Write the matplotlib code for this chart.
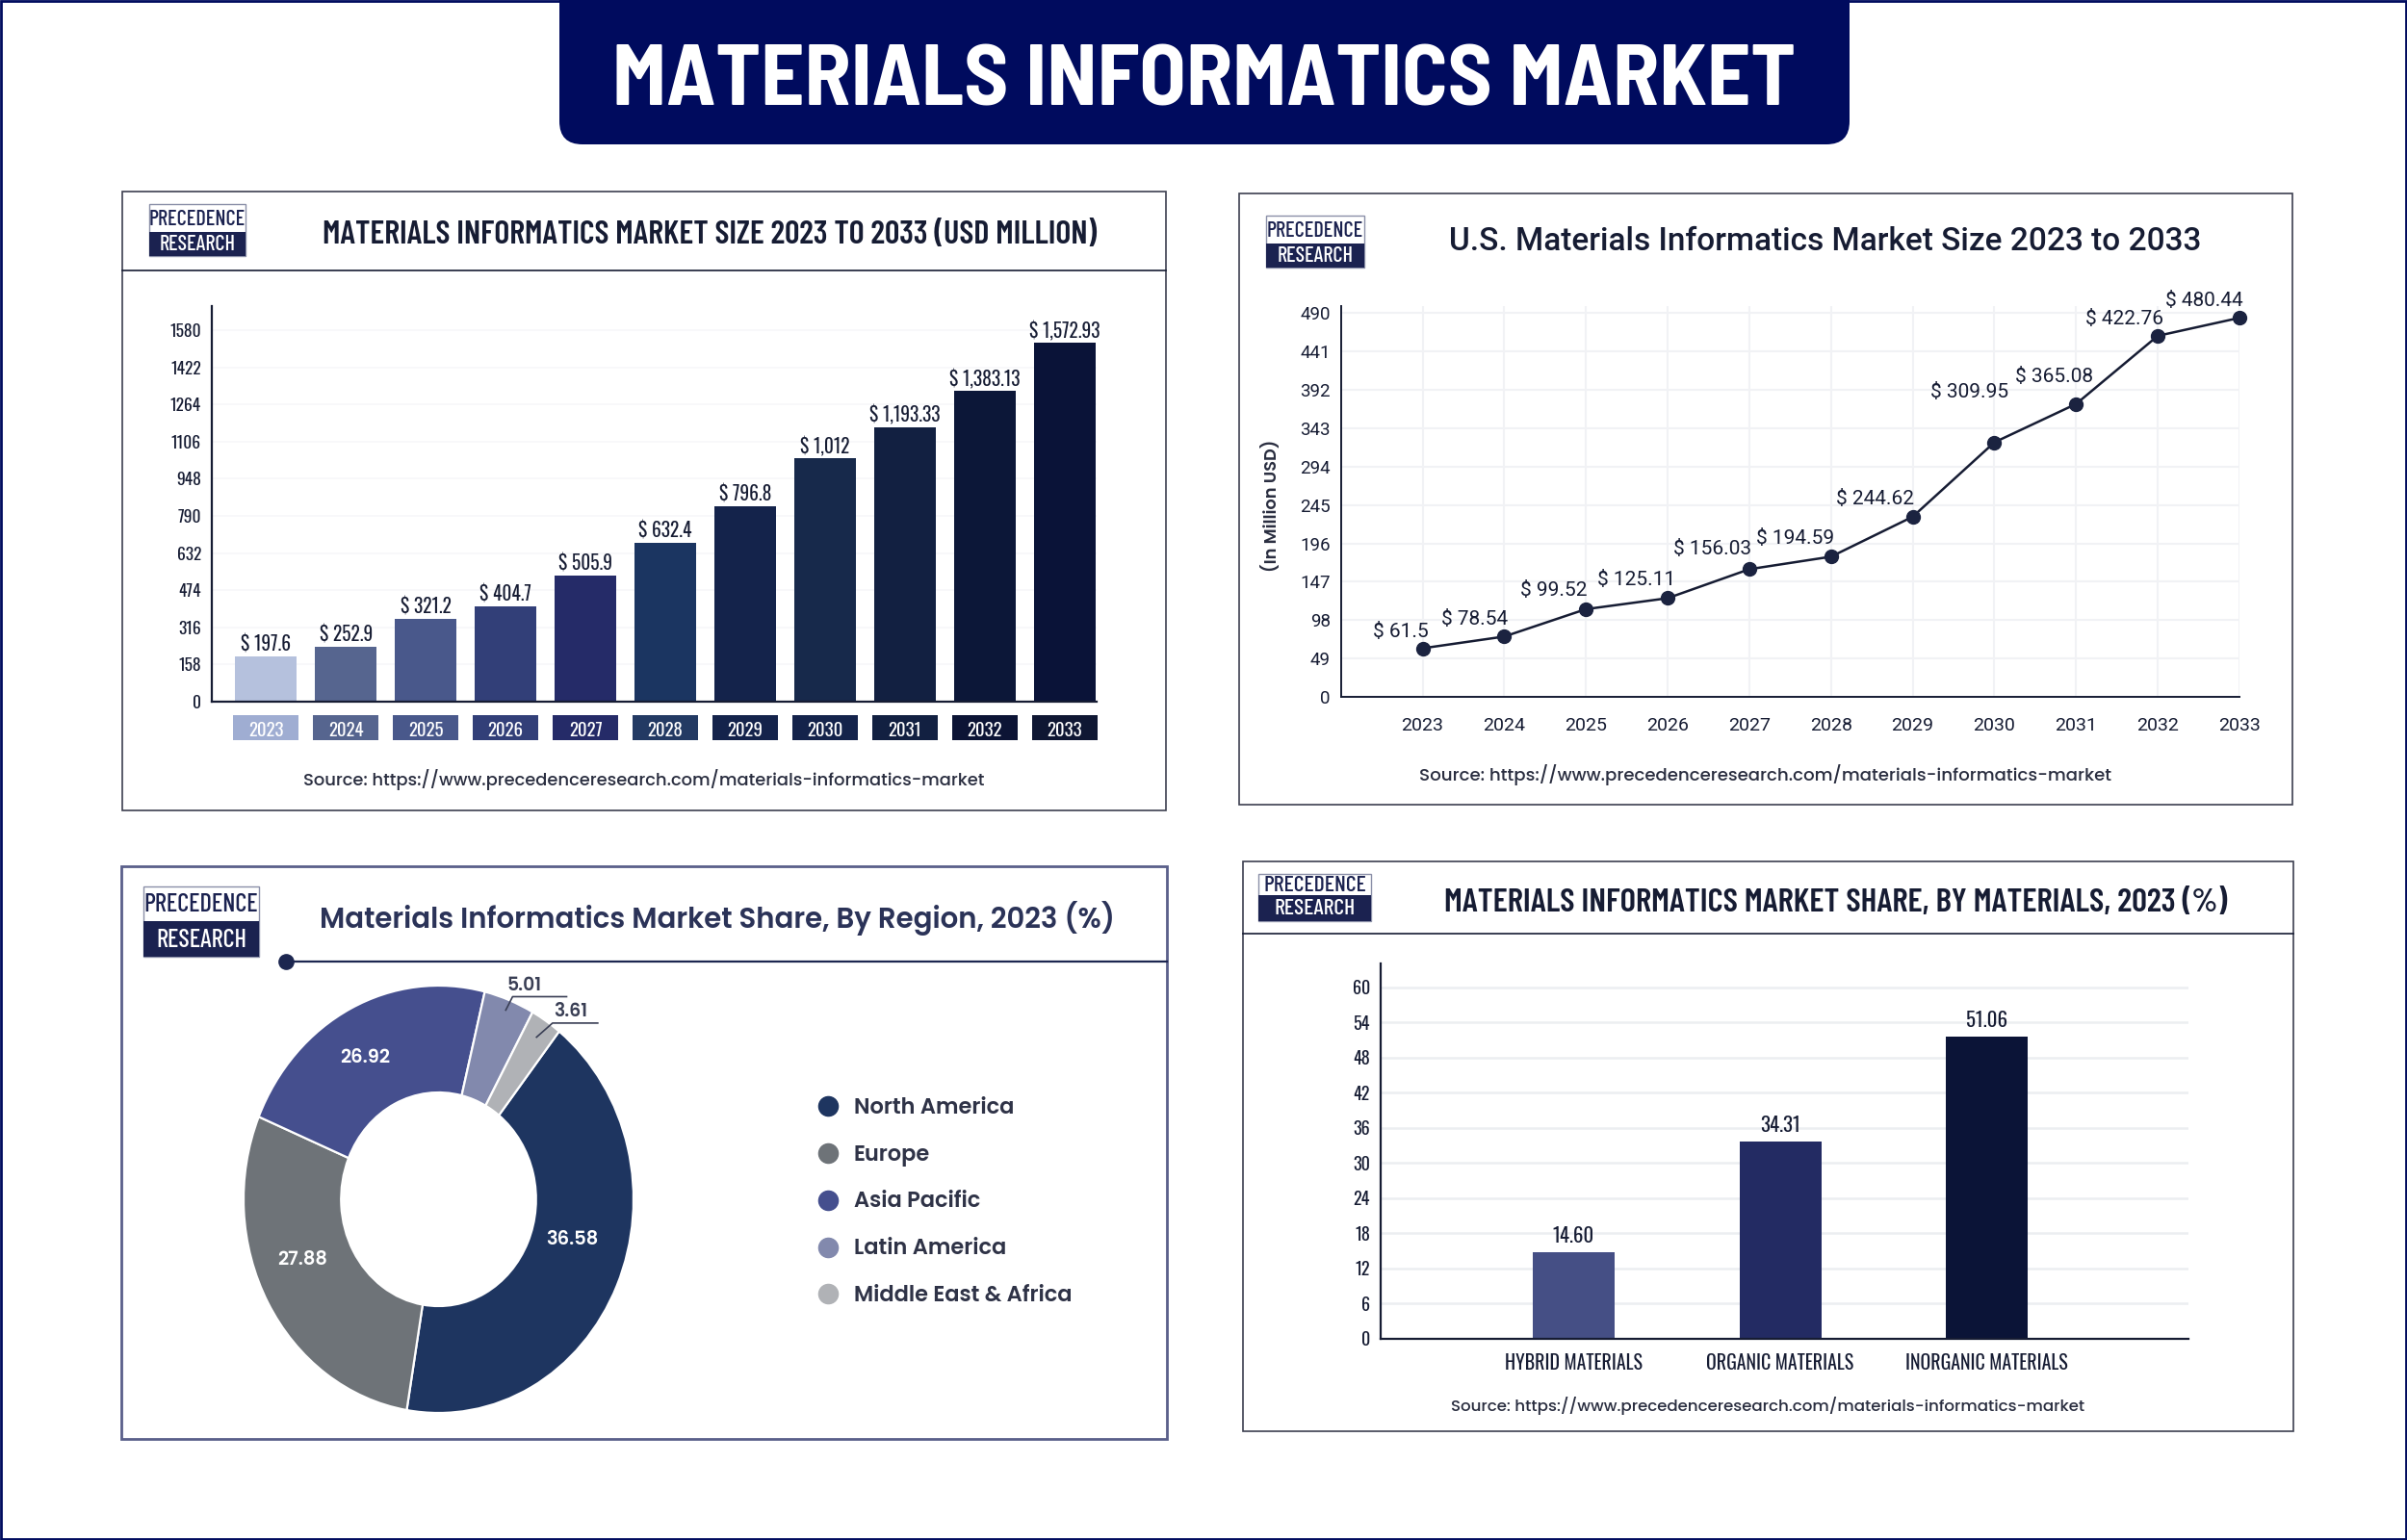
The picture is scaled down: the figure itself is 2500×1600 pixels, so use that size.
import math
import matplotlib
matplotlib.use('Agg')
import matplotlib.pyplot as plt
from matplotlib.patches import Rectangle, FancyBboxPatch
from matplotlib.lines import Line2D

HEAD = ['Barlow Condensed', 'Bebas Neue', 'Liberation Sans', 'DejaVu Sans']
NARROW = ['Oswald', 'Bebas Neue', 'Liberation Sans', 'DejaVu Sans']
BANNER = ['Barlow Semi Condensed', 'Oswald', 'Liberation Sans', 'DejaVu Sans']
WIDE = ['Poppins', 'Open Sans', 'DejaVu Sans']
PLAIN = ['Roboto', 'Liberation Sans', 'DejaVu Sans']
NAVY = '#000b5e'
DARK = '#161c33'
SOURCE = 'Source: https://www.precedenceresearch.com/materials-informatics-market'

# market size bars, heights read against the y axis
years = ['2023', '2024', '2025', '2026', '2027', '2028', '2029', '2030', '2031', '2032', '2033']
size_heights = [191, 233, 353, 407, 538, 675, 832, 1034, 1168, 1323, 1527]
size_labels = ['$ 197.6', '$ 252.9', '$ 321.2', '$ 404.7', '$ 505.9', '$ 632.4', '$ 796.8',
               '$ 1,012', '$ 1,193.33', '$ 1,383.13', '$ 1,572.93']
size_ticks = [0, 158, 316, 474, 632, 790, 948, 1106, 1264, 1422, 1580]
size_colors = ['#b5c1dd', '#56658f', '#49588b', '#323f78', '#252b68', '#1b3561',
               '#14234b', '#17294b', '#122041', '#0c1738', '#0a1338']
year_box_colors = ['#9fadd2', '#56658f', '#49588b', '#323f78', '#252b68', '#233a63',
                   '#14234b', '#14234b', '#122041', '#0c1435', '#0f1733']

# U.S. line, values read against the y axis
us_values = [62, 77, 112, 126, 163, 179, 230, 325, 374, 461, 484]
us_labels = ['$ 61.5', '$ 78.54', '$ 99.52', '$ 125.11', '$ 156.03', '$ 194.59', '$ 244.62',
             '$ 309.95', '$ 365.08', '$ 422.76', '$ 480.44']
us_ticks = [0, 49, 98, 147, 196, 245, 294, 343, 392, 441, 490]

# region donut, sweep, labels as printed
regions = ['North America', 'Europe', 'Asia Pacific', 'Latin America', 'Middle East & Africa']
region_sweep = [42.0, 28.7, 22.5, 4.2, 2.6]
region_labels = ['36.58', '27.88', '26.92', '5.01', '3.61']
region_colors = ['#1e3560', '#6e7378', '#454f8e', '#8289ad', '#b0b2b6']

# materials bars
materials = ['HYBRID MATERIALS', 'ORGANIC MATERIALS', 'INORGANIC MATERIALS']
material_values = [14.8, 33.7, 51.6]
material_labels = ['14.60', '34.31', '51.06']
material_ticks = [0, 6, 12, 18, 24, 30, 36, 42, 48, 54, 60]
material_colors = ['#454f85', '#232b63', '#0b1437']

W, H = 2500, 1600
fig = plt.figure(figsize=(25, 16), dpi=100, facecolor='white')
bg = fig.add_axes([0, 0, 1, 1])
bg.set_xlim(0, W)
bg.set_ylim(H, 0)
bg.axis('off')


def px_axes(left, top, right, bottom):
    ax = fig.add_axes([left / W, 1 - bottom / H, (right - left) / W, (bottom - top) / H])
    ax.patch.set_alpha(0)
    return ax


def panel(left, top, right, bottom, edge='#3d4050', lw=1.2):
    bg.add_patch(Rectangle((left, top), right - left, bottom - top, fc='white', ec=edge, lw=lw))


def logo(left, top, right, bottom, split, size):
    bg.add_patch(Rectangle((left, top), right - left, bottom - top, fc='white', ec='#8a8fa8', lw=1))
    bg.add_patch(Rectangle((left, split), right - left, bottom - split, fc='#1b2250', ec='none'))
    mid = (left + right) / 2
    bg.text(mid, (top + split) / 2 + 1, 'PRECEDENCE', family=HEAD, fontsize=size, fontweight='medium',
            color='#1b2250', ha='center', va='center')
    bg.text(mid, (split + bottom) / 2 + 1, 'RESEARCH', family=HEAD, fontsize=size, fontweight='medium',
            color='white', ha='center', va='center')


def source(x, y, size):
    bg.text(x, y, SOURCE, family=WIDE, fontsize=size, fontweight='medium', color='#2a2e40',
            ha='center', va='center')


def clean_axes(ax, lw=1.4):
    ax.spines['top'].set_visible(False)
    ax.spines['right'].set_visible(False)
    ax.spines['left'].set_linewidth(lw)
    ax.spines['bottom'].set_linewidth(lw)
    ax.spines['left'].set_color(DARK)
    ax.spines['bottom'].set_color(DARK)
    ax.set_axisbelow(True)


# page frame and banner
bg.add_patch(Rectangle((1, 1), W - 2, H - 2, fc='white', ec=NAVY, lw=2))
bg.add_patch(FancyBboxPatch((581, -60), 1340, 210, boxstyle='round,pad=0,rounding_size=24',
                            fc=NAVY, ec='none'))
bg.text(1251, 86, 'MATERIALS INFORMATICS MARKET', family=BANNER, fontsize=64, fontweight='bold',
        color='white', ha='center', va='center')

# top left: market size
panel(127, 199, 1211, 842)
bg.plot([127, 1211], [281, 281], color=DARK, lw=1.2)
logo(155, 212, 255, 266, 241, 16)
bg.text(737, 245, 'MATERIALS INFORMATICS MARKET SIZE 2023 TO 2033 (USD MILLION)', family=HEAD,
        fontsize=24.6, fontweight='semibold', color=DARK, ha='center', va='center')
source(669, 810, 12.9)

ax1 = px_axes(220, 318, 1139, 729)
x1 = range(len(years))
ax1.bar(x1, size_heights, width=0.77, color=size_colors)
ax1.set_xlim(-0.68, 10.40)
ax1.set_ylim(0, 1682)
for i in x1:
    ax1.add_patch(Rectangle((i - 0.41, -164), 0.82, 107, fc=year_box_colors[i], ec='none',
                            clip_on=False, zorder=0.2))
ax1.set_yticks(size_ticks)
ax1.set_yticklabels([str(t) for t in size_ticks], family=NARROW, fontsize=12.5, color=DARK)
ax1.set_xticks(list(x1))
ax1.set_xticklabels(years, family=NARROW, fontsize=13.5, color='white')
ax1.tick_params(axis='y', length=0, pad=8)
ax1.tick_params(axis='x', length=0, pad=15)
ax1.grid(axis='y', color='#f7f7f9', lw=1.2)
clean_axes(ax1, 1.6)
for i in x1:
    ax1.annotate(size_labels[i], (i, size_heights[i]), xytext=(0, 9), textcoords='offset points',
                 family=NARROW, fontsize=14, color=DARK, ha='center', va='center')

# top right: U.S. line
panel(1287, 201, 2381, 836)
logo(1315, 224, 1417, 278, 253, 16)
bg.text(1896, 251, 'U.S. Materials Informatics Market Size 2023 to 2033', family=PLAIN,
        fontsize=24, fontweight='medium', color=DARK, ha='center', va='center')
source(1833, 805, 13.1)
bg.text(1321, 525, '(In Million USD)', family=WIDE, fontsize=12.8, fontweight='semibold', color='#2a2e40',
        rotation=90, ha='center', va='center')

ax2 = px_axes(1393, 318, 2326, 724)
x2 = list(range(len(years)))
ax2.plot(x2, us_values, color=DARK, lw=1.8, marker='o', ms=10, mfc='#1b2340', mec='#1b2340', clip_on=False)
ax2.set_xlim(-0.996, 10)
ax2.set_ylim(0, 499)
ax2.set_yticks(us_ticks)
ax2.set_yticklabels([str(t) for t in us_ticks], family=PLAIN, fontsize=13.5, color=DARK)
ax2.set_xticks(x2)
ax2.set_xticklabels(years, family=PLAIN, fontsize=14, color=DARK)
ax2.tick_params(axis='y', length=0, pad=8)
ax2.tick_params(axis='x', length=0, pad=15)
ax2.grid(axis='both', color='#f1f2f5', lw=1.5)
clean_axes(ax2, 1.4)
label_offsets = [(-23, 17), (-31, 18), (-33, 19), (-32, 19), (-38, 21), (-37, 19),
                 (-39, 18), (-26, 52), (-23, 28), (-35, 17), (-37, 18)]
for i in x2:
    off = (label_offsets[i][0] * 0.72, label_offsets[i][1] * 0.72)
    ax2.annotate(us_labels[i], (i, us_values[i]), xytext=off, textcoords='offset points',
                 family=PLAIN, fontsize=15, color=DARK, ha='center', va='center')

# bottom left: donut
panel(126, 900, 1212, 1495, edge='#5a5f8a', lw=2)
logo(149, 921, 269, 994, 957, 19)
bg.text(745, 954, 'Materials Informatics Market Share, By Region, 2023 (%)', family=WIDE,
        fontsize=21, fontweight='semibold', color='#2b3358', ha='center', va='center')
bg.plot([297, 1212], [999, 999], color='#1c2650', lw=1.6)
bg.plot([297], [999], 'o', color='#1c2650', ms=11)

ax3 = px_axes(253, 1024, 658, 1468)
wedges, _ = ax3.pie(region_sweep, colors=region_colors, startangle=51.8, counterclock=False,
                    radius=1, wedgeprops=dict(width=0.5, edgecolor='white', linewidth=1.6))
ax3.set_aspect('auto')
ax3.set_xlim(-1, 1)
ax3.set_ylim(-1, 1)
inside_pos = [(0.683, -0.19), (-0.70, -0.288), (-0.376, 0.662)]
for i in range(3):
    ax3.text(inside_pos[i][0], inside_pos[i][1], region_labels[i], family=WIDE, fontsize=14,
             fontweight='semibold', color='white', ha='center', va='center')
leaders = [(3, 0.95, 0.035, 0.063, 0.277, -0.08), (4, 0.91, 0.082, 0.066, 0.232, -0.024)]
for idx, r, dx, dy, run, shift in leaders:
    ang = math.radians((wedges[idx].theta1 + wedges[idx].theta2) / 2)
    ax_x, ax_y = r * math.cos(ang), r * math.sin(ang)
    ax3.plot([ax_x, ax_x + dx, ax_x + dx + run], [ax_y, ax_y + dy, ax_y + dy],
             color='#3a3f55', lw=1.2, clip_on=False)
    ax3.text(ax_x + dx + run / 2 + shift, ax_y + dy + 0.05, region_labels[idx], family=WIDE, fontsize=13.5,
             fontweight='semibold', color='#3a3f55', ha='center', va='center')
handles = [Line2D([], [], ls='none', marker='o', ms=14.5, color=c) for c in region_colors]
leg = ax3.legend(handles, regions, loc='center left', bbox_to_anchor=(849 / W, 1 - 1249 / H),
                 bbox_transform=fig.transFigure, frameon=False, labelspacing=1.15, handletextpad=0.67,
                 handlelength=1.0, borderpad=0, borderaxespad=0,
                 prop=dict(family=WIDE, size=16.2, weight='semibold'), labelcolor='#2f3347')

# bottom right: materials bars
panel(1291, 895, 2382, 1487)
bg.plot([1291, 2382], [970, 970], color=DARK, lw=1.2)
logo(1307, 908, 1424, 957, 930, 17)
bg.text(1907, 939, 'MATERIALS INFORMATICS MARKET SHARE, BY MATERIALS, 2023 (%)', family=HEAD,
        fontsize=25.2, fontweight='semibold', color=DARK, ha='center', va='center')
source(1836, 1460, 12)

ax4 = px_axes(1434, 1001, 2273, 1391)
x4 = list(range(len(materials)))
ax4.bar(x4, material_values, width=0.395, color=material_colors)
ax4.set_xlim(-0.933, 2.974)
ax4.set_ylim(0, 64.1)
ax4.set_yticks(material_ticks)
ax4.set_yticklabels([str(t) for t in material_ticks], family=NARROW, fontsize=13, color=DARK)
ax4.set_xticks(x4)
ax4.set_xticklabels(materials, family=NARROW, fontsize=14.3, color=DARK)
ax4.tick_params(axis='y', length=0, pad=8)
ax4.tick_params(axis='x', length=0, pad=11)
ax4.grid(axis='y', color='#eceef1', lw=1.8)
clean_axes(ax4, 1.6)
for i in x4:
    ax4.annotate(material_labels[i], (i, material_values[i]), xytext=(0, 12), textcoords='offset points',
                 family=NARROW, fontsize=15, color=DARK, ha='center', va='center')

fig.savefig('out.png', dpi=100)
